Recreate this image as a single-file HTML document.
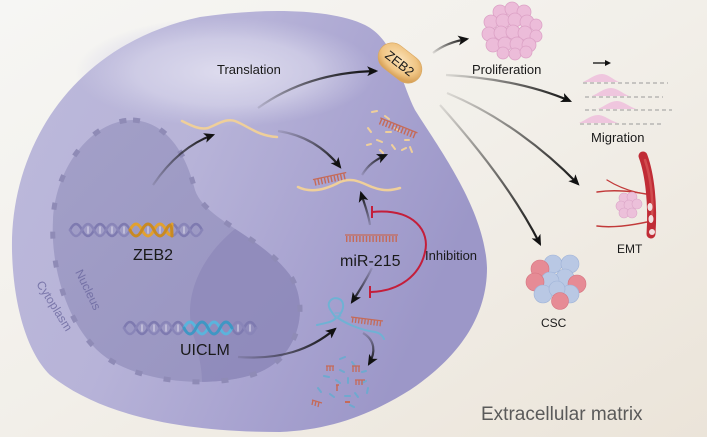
<!DOCTYPE html>
<html><head><meta charset="utf-8"><style>
html,body{margin:0;padding:0;background:#f2efe9;}
svg{display:block;}
text{font-family:"Liberation Sans",Arial,sans-serif;}
</style></head><body>
<svg width="707" height="437" viewBox="0 0 707 437" xmlns="http://www.w3.org/2000/svg">
<defs>
<linearGradient id="bg" x1="0" y1="0" x2="1" y2="1">
<stop offset="0" stop-color="#f6f6f4"/><stop offset="0.5" stop-color="#f2efe9"/><stop offset="1" stop-color="#ebe4d9"/>
</linearGradient>
<linearGradient id="cellg" x1="0" y1="0" x2="1" y2="0.4">
<stop offset="0" stop-color="#bdbadb"/><stop offset="0.45" stop-color="#b7b3d8"/><stop offset="0.75" stop-color="#a8a3d0"/><stop offset="1" stop-color="#9c97c8"/>
</linearGradient>
<radialGradient id="hl" cx="0.5" cy="0.5" r="0.5">
<stop offset="0" stop-color="#dedcee" stop-opacity="1"/><stop offset="0.6" stop-color="#d6d4ea" stop-opacity="0.7"/><stop offset="1" stop-color="#cfcde6" stop-opacity="0"/>
</radialGradient>
<linearGradient id="nucg" x1="0" y1="0" x2="1" y2="1">
<stop offset="0" stop-color="#a3a0c8"/><stop offset="1" stop-color="#9793c0"/>
</linearGradient>
<clipPath id="nucclip"><path d="M133,120 C165,122 185,150 195,190 C205,220 260,235 290,275 C310,305 300,355 260,372 C220,388 150,385 110,360 C70,335 50,270 53,220 C55,170 90,120 133,120 Z"/></clipPath>
<marker id="ah" viewBox="0 0 10 10" refX="8" refY="5" markerWidth="11" markerHeight="11" markerUnits="userSpaceOnUse" orient="auto"><path d="M0,0.5 L10,5 L0,9.5 L2.5,5 z" fill="#111"/></marker>
<linearGradient id="gLR" x1="0" y1="0" x2="1" y2="0"><stop offset="0" stop-color="#111" stop-opacity="0.1"/><stop offset="1" stop-color="#111"/></linearGradient>
<linearGradient id="gUp" x1="0" y1="1" x2="0" y2="0"><stop offset="0" stop-color="#111" stop-opacity="0.15"/><stop offset="1" stop-color="#111"/></linearGradient>
<linearGradient id="gDn" x1="0" y1="0" x2="0" y2="1"><stop offset="0" stop-color="#111" stop-opacity="0.15"/><stop offset="1" stop-color="#111"/></linearGradient>
<linearGradient id="gUR" x1="0" y1="1" x2="1" y2="0"><stop offset="0" stop-color="#111" stop-opacity="0.1"/><stop offset="1" stop-color="#111"/></linearGradient>
<linearGradient id="gDR" x1="0" y1="0" x2="1" y2="1"><stop offset="0" stop-color="#111" stop-opacity="0.1"/><stop offset="1" stop-color="#111"/></linearGradient>
<linearGradient id="gDL" x1="1" y1="0" x2="0" y2="1"><stop offset="0" stop-color="#111" stop-opacity="0.1"/><stop offset="1" stop-color="#111"/></linearGradient>
<radialGradient id="capg" cx="0.45" cy="0.4" r="0.6"><stop offset="0" stop-color="#fbe2b8"/><stop offset="0.7" stop-color="#f0c584"/><stop offset="1" stop-color="#d9a35a"/></radialGradient>
</defs>

<rect width="707" height="437" fill="url(#bg)"/>

<!-- cell -->
<path d="M12,250 C10,150 70,45 200,17 C260,8 330,8 365,25 C395,40 400,80 415,110 C440,150 485,210 487,268 C487,320 455,360 410,390 C370,415 330,430 280,432 C180,432 100,415 50,375 C25,350 13,300 12,250 Z" fill="url(#cellg)"/>
<ellipse cx="225" cy="72" rx="150" ry="55" fill="url(#hl)"/>

<!-- nucleus -->
<path d="M133,120 C165,122 185,150 195,190 C205,220 260,235 290,275 C310,305 300,355 260,372 C220,388 150,385 110,360 C70,335 50,270 53,220 C55,170 90,120 133,120 Z" fill="url(#nucg)"/>
<g clip-path="url(#nucclip)">
<path d="M240,225 C200,255 180,300 195,340 C200,360 205,380 200,400 L320,400 L320,220 Z" fill="#8d88b9" opacity="0.75"/>
</g>
<path d="M133,120 C165,122 185,150 195,190 C205,220 260,235 290,275 C310,305 300,355 260,372 C220,388 150,385 110,360 C70,335 50,270 53,220 C55,170 90,120 133,120 Z" fill="none" stroke="#8f8bb6" stroke-width="5" stroke-dasharray="7 22"/>

<text x="75" y="272" font-size="12" fill="#7471a6" transform="rotate(64 75 272)">Nucleus</text>
<text x="36" y="284" font-size="12" fill="#7a77aa" transform="rotate(58 36 284)">Cytoplasm</text>

<!-- ZEB2 DNA -->
<g fill="none" stroke-linecap="round">
<path d="M70,230 q6,-12 12,0 t12,0 t12,0 t12,0 t12,0 t12,0 t12,0 t12,0 t12,0 t12,0 t12,0" stroke="#7e7ab0" stroke-width="2.5"/>
<path d="M70,230 q6,12 12,0 t12,0 t12,0 t12,0 t12,0 t12,0 t12,0 t12,0 t12,0 t12,0 t12,0" stroke="#8985b8" stroke-width="2.5"/>
<path d="M88,227 v6 M100,227 v6 M112,227 v6 M124,227 v6 M148,227 v6 M160,227 v6 M172,227 v6 M184,227 v6" stroke="#d4d2e6" stroke-width="1.5" opacity="0.8"/>
<path d="M130,230 q6,-12 12,0 t12,0 t12,0 t6,-6" stroke="#e2a130" stroke-width="3"/>
<path d="M130,230 q6,12 12,0 t12,0 t12,0 t6,6" stroke="#c98a22" stroke-width="3"/>
</g>
<text x="133" y="260" font-size="16" fill="#1a1a1a">ZEB2</text>

<!-- UICLM DNA -->
<g fill="none" stroke-linecap="round">
<path d="M124,328 q6,-12 12,0 t12,0 t12,0 t12,0 t12,0 t12,0 t12,0 t12,0 t12,0 t12,0 t12,0" stroke="#7e7ab0" stroke-width="2.5"/>
<path d="M124,328 q6,12 12,0 t12,0 t12,0 t12,0 t12,0 t12,0 t12,0 t12,0 t12,0 t12,0 t12,0" stroke="#8985b8" stroke-width="2.5"/>
<path d="M142,325 v6 M154,325 v6 M166,325 v6 M178,325 v6 M238,325 v6 M250,325 v6" stroke="#d4d2e6" stroke-width="1.5" opacity="0.8"/>
<path d="M184,328 q6,-12 12,0 t12,0 t12,0 t12,0" stroke="#5ab4dc" stroke-width="3"/>
<path d="M184,328 q6,12 12,0 t12,0 t12,0 t12,0" stroke="#3f97c4" stroke-width="3"/>
</g>
<text x="180" y="355" font-size="16" fill="#1a1a1a">UICLM</text>

<!-- mRNA 1 -->
<path d="M182,121 C192,126 200,130 208,128 C218,124 226,118 235,121 C248,126 258,136 277,137" fill="none" stroke="#efcf9a" stroke-width="2.5" stroke-linecap="round"/>

<!-- mRNA 2 with miRNA -->
<path d="M298,187 C310,193 325,190 340,182 C352,177 360,182 372,187 C385,192 393,190 400,188" fill="none" stroke="#efcf9a" stroke-width="2.5" stroke-linecap="round"/>
<g transform="rotate(-12 330 178)">
<line x1="313" y1="176" x2="347" y2="176" stroke="#c56a58" stroke-width="1.3"/>
<line x1="314" y1="179.5" x2="346" y2="179.5" stroke="#c56a58" stroke-width="6" stroke-dasharray="1.4 1.9"/>
</g>

<!-- degraded mRNA fragments top -->
<g stroke="#efcf9a" stroke-width="2" stroke-linecap="round">
<path d="M372,112 l5,-1 M385,116 l4,3 M368,128 l3,4 M377,140 l5,2 M392,145 l3,4 M402,150 l4,-2 M410,147 l2,5 M386,132 l5,0 M367,145 l4,-1 M395,128 l4,3 M380,150 l3,3 M405,140 l4,0"/>
</g>
<g transform="rotate(22 397 130)">
<line x1="377" y1="125" x2="417" y2="125" stroke="#c56a58" stroke-width="1.3"/>
<line x1="378" y1="128.5" x2="416" y2="128.5" stroke="#c56a58" stroke-width="6" stroke-dasharray="1.4 1.9"/>
</g>

<!-- miR-215 -->
<line x1="345" y1="235" x2="398" y2="235" stroke="#c56a58" stroke-width="1.3"/>
<line x1="346" y1="239" x2="397" y2="239" stroke="#c56a58" stroke-width="6" stroke-dasharray="1.4 1.9"/>
<text x="340" y="266" font-size="16" fill="#1a1a1a">miR-215</text>

<!-- Inhibition -->
<path d="M372,212 C415,208 430,232 425,252 C420,275 400,291 371,292" fill="none" stroke="#c41e3a" stroke-width="2"/>
<line x1="372" y1="206" x2="372" y2="218" stroke="#c41e3a" stroke-width="2"/>
<line x1="370" y1="286" x2="370" y2="298" stroke="#c41e3a" stroke-width="2"/>
<text x="425" y="260" font-size="13" fill="#1a1a1a">Inhibition</text>

<!-- lncRNA stem-loop -->
<g fill="none" stroke="#6fb2d4" stroke-width="2" stroke-linecap="round">
<path d="M317,325 C325,323 333,322 336,318 C332,312 326,306 330,301 C334,296 342,298 343,304 C344,310 340,314 338,318 C345,323 360,330 375,332 C380,333 383,336 384,339"/>
<path d="M335,313 h6 M335,316 h6" stroke-width="1"/>
</g>
<line x1="351" y1="317" x2="383" y2="321" stroke="#c56a58" stroke-width="1.2"/>
<line x1="352" y1="320" x2="382" y2="324" stroke="#c56a58" stroke-width="5" stroke-dasharray="1.3 1.8"/>

<!-- lncRNA degraded fragments -->
<g stroke="#6fa9cf" stroke-width="2" stroke-linecap="round">
<path d="M340,359 l5,-2 M352,362 l3,4 M324,376 l5,1 M336,380 l4,3 M348,378 l0,5 M362,383 l4,-2 M330,394 l4,3 M345,396 l5,0 M355,393 l3,4 M368,388 l-1,5 M318,388 l3,4 M340,370 l4,2 M362,372 l4,-1 M350,405 l4,2"/>
</g>
<g stroke="#c56a58" fill="none">
<path d="M326,366 h8 M327,366 v5 M330,366 v5 M333,366 v5" stroke-width="1.3"/>
<path d="M352,366 h8 M353,366 v6 M356,366 v6 M359,366 v6" stroke-width="1.3"/>
<path d="M355,380 h10 M356,380 v5 M359,380 v5 M362,380 v5" stroke-width="1.3"/>
<path d="M337,385 v6 M336,385 h3" stroke-width="1.5"/>
<path d="M312,400 l10,3 M313,400 l-1,5 M316,401 l-1,5 M319,402 l-1,5" stroke-width="1.3"/>
<path d="M345,402 h5" stroke-width="2"/>
</g>

<!-- ZEB2 capsule -->
<g transform="rotate(38 400 63)">
<rect x="376" y="49" width="48" height="28" rx="14" fill="url(#capg)" stroke="#d8a660" stroke-width="0.6"/>
<text x="400" y="68" font-size="13" fill="#1a1a1a" text-anchor="middle">ZEB2</text>
</g>

<!-- arrows -->
<g fill="none" stroke-width="2.2" marker-end="url(#ah)">
<path d="M153,185 C170,160 190,143 213,135" stroke="url(#gUR)"/>
<path d="M278,131 C305,135 325,148 340,167" stroke="url(#gDR)"/>
<path d="M258,108 C290,85 330,72 376,71" stroke="url(#gUR)"/>
<path d="M362,175 C368,165 375,160 386,155" stroke="url(#gUR)"/>
<path d="M370,225 C368,212 364,203 361,193" stroke="url(#gUp)"/>
<path d="M372,268 C366,280 360,290 352,302" stroke="url(#gDL)"/>
<path d="M238,357 C280,360 310,350 335,329" stroke="url(#gLR)"/>
<path d="M363,333 C375,340 376,352 369,364" stroke="url(#gDn)"/>
<path d="M433,53 C443,45 455,41 467,39" stroke="url(#gUR)"/>
<path d="M446,75 C500,78 540,88 570,101" stroke="url(#gLR)"/>
<path d="M447,93 C500,115 545,150 578,184" stroke="url(#gDR)"/>
<path d="M440,105 C480,150 515,195 540,244" stroke="url(#gDR)"/>
</g>
<text x="217" y="74" font-size="13" fill="#1a1a1a">Translation</text>

<!-- Proliferation cluster -->
<g fill="#ecbcd9" stroke="#dca2c6" stroke-width="0.8">
<circle cx="500" cy="12" r="7"/><circle cx="512" cy="9" r="7"/><circle cx="524" cy="12" r="7"/>
<circle cx="491" cy="22" r="7"/><circle cx="503" cy="21" r="7"/><circle cx="515" cy="20" r="7"/><circle cx="527" cy="22" r="7"/><circle cx="536" cy="25" r="6"/>
<circle cx="489" cy="34" r="7"/><circle cx="501" cy="33" r="7"/><circle cx="513" cy="32" r="7"/><circle cx="525" cy="33" r="7"/><circle cx="536" cy="36" r="6"/>
<circle cx="493" cy="45" r="7"/><circle cx="505" cy="44" r="7"/><circle cx="517" cy="44" r="7"/><circle cx="529" cy="45" r="7"/>
<circle cx="503" cy="53" r="6"/><circle cx="515" cy="54" r="6"/><circle cx="526" cy="52" r="6"/>
</g>
<text x="472" y="74" font-size="13" fill="#1a1a1a">Proliferation</text>

<!-- Migration -->
<line x1="593" y1="63" x2="606" y2="63" stroke="#111" stroke-width="1.3"/>
<path d="M605,60 L611,63 L605,66 z" fill="#111"/>
<g stroke="#9a9a9a" stroke-width="1" stroke-dasharray="4 3">
<line x1="583" y1="83" x2="668" y2="83"/>
<line x1="585" y1="97" x2="663" y2="97"/>
<line x1="585" y1="110" x2="672" y2="110"/>
<line x1="580" y1="124" x2="664" y2="124"/>
</g>
<g fill="#efc6de">
<path d="M583,82 C590,79 595,74 602,74 C608,74 612,79 619,82 Z"/>
<path d="M592,96 C599,93 604,88 611,88 C617,88 622,93 629,96 Z"/>
<path d="M598,109 C605,106 610,101 617,101 C623,101 628,106 636,109 Z"/>
<path d="M579,123 C586,120 591,115 598,115 C604,115 609,120 618,123 Z"/>
</g>
<text x="591" y="142" font-size="13" fill="#1a1a1a">Migration</text>

<!-- EMT -->
<g fill="none" stroke-linecap="round">
<path d="M597,192 C610,190 625,190 646,194" stroke="#c23a3a" stroke-width="1.5"/>
<path d="M607,180 C615,185 625,190 640,193" stroke="#c23a3a" stroke-width="1.3"/>
<path d="M597,226 C612,228 628,226 647,222" stroke="#c23a3a" stroke-width="1.5"/>
<path d="M643,156 C650,175 653,205 651,234" stroke="#c02c36" stroke-width="9"/>
<path d="M645,160 C651,178 653,200 652,215" stroke="#d85a5a" stroke-width="2.5" opacity="0.7"/>
</g>
<ellipse cx="650" cy="207" rx="2.5" ry="4" fill="#f2e0e0"/>
<ellipse cx="651" cy="219" rx="2.5" ry="4" fill="#f2e0e0"/>
<ellipse cx="652" cy="232" rx="3" ry="3" fill="#f2e0e0"/>
<g fill="#ecc0da" stroke="#dca6c8" stroke-width="0.6">
<circle cx="624" cy="198" r="5"/><circle cx="632" cy="197" r="5"/><circle cx="621" cy="206" r="5"/><circle cx="629" cy="205" r="5"/><circle cx="637" cy="204" r="5"/><circle cx="624" cy="213" r="5"/><circle cx="632" cy="213" r="5"/>
</g>
<text x="617" y="253" font-size="12" fill="#1a1a1a">EMT</text>

<!-- CSC -->
<g stroke-width="0.6">
<circle cx="553" cy="264" r="9" fill="#b9c8e4" stroke="#9fb3d8"/>
<circle cx="570" cy="264" r="9" fill="#b9c8e4" stroke="#9fb3d8"/>
<circle cx="540" cy="269" r="9" fill="#e68b95" stroke="#d67580"/>
<circle cx="565" cy="278" r="9" fill="#b9c8e4" stroke="#9fb3d8"/>
<circle cx="550" cy="281" r="9" fill="#b9c8e4" stroke="#9fb3d8"/>
<circle cx="535" cy="282" r="9" fill="#e68b95" stroke="#d67580"/>
<circle cx="577" cy="284" r="9" fill="#e68b95" stroke="#d67580"/>
<circle cx="543" cy="294" r="9" fill="#b9c8e4" stroke="#9fb3d8"/>
<circle cx="570" cy="294" r="9" fill="#b9c8e4" stroke="#9fb3d8"/>
<circle cx="557" cy="289" r="8" fill="#b9c8e4" stroke="#9fb3d8"/>
<circle cx="560" cy="301" r="8.5" fill="#e68b95" stroke="#d67580"/>
</g>
<text x="541" y="327" font-size="12" fill="#1a1a1a">CSC</text>

<text x="481" y="420" font-size="19" fill="#5a5a5a">Extracellular matrix</text>
</svg>
</body></html>
